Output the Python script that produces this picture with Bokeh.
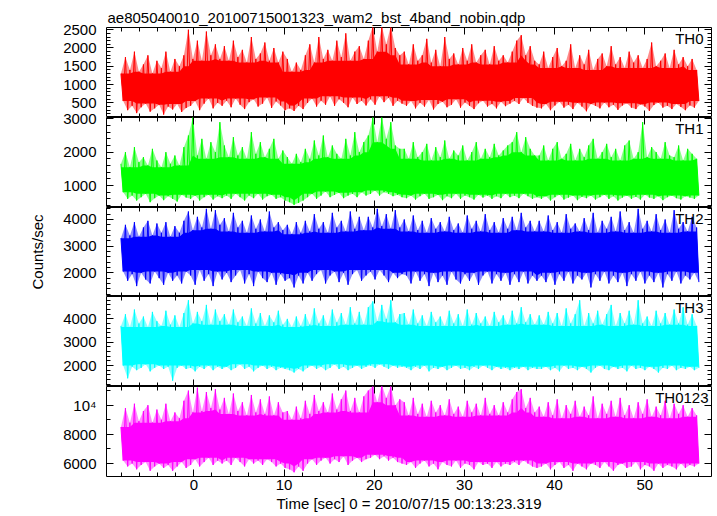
import numpy as np
from bokeh.plotting import figure
from bokeh.layouts import column
from bokeh.models import Range1d, LinearAxis, SingleIntervalTicker, Label, CustomJSTickFormatter
from bokeh.embed import file_html
from bokeh.resources import INLINE

title_text = "ae805040010_20100715001323_wam2_bst_4band_nobin.qdp"
x_label = "Time [sec] 0 = 2010/07/15 00:13:23.319"
y_label = "Counts/sec"
bands = ["TH0", "TH1", "TH2", "TH3", "TH0123"]
colors = ["#ff0000", "#00ff00", "#0000ff", "#00ffff", "#ff00ff"]
t_start, t_end = -8.1, 56.0
x_min, x_max = -9.7, 57.4
y_ranges = [(100, 2560), (340, 3040), (1110, 4450), (1100, 4960), (5110, 11280)]
y_major = [500, 1000, 1000, 1000, 2000]
y_minor = [5, 5, 5, 5, 2]
label_overrides = [{}, {}, {}, {}, {10000: "10\u2074"}]

# peaks (hi) and troughs (lo) of each band, read every 0.5 s
th0_hi = [1300, 1750, 1400, 1900, 1350, 1550, 1800, 1300, 1650, 1450, 1900, 1350, 1700, 1500, 1800,
          2500, 1700, 2200, 1650, 2450, 1800, 2100, 1700,
          2050, 1650, 2200, 1750, 1950, 1600, 2300, 1700, 1850, 2150, 1650, 2000, 1600, 1900,
          1700, 1350, 1600, 1400,
          1800, 2100, 1600, 2300, 1700, 1950, 1650, 2200, 1750, 2400, 1650, 1900, 2050, 1700,
          2200, 2600, 1900, 2600, 2100, 2600, 2000, 1800,
          1900, 1550, 2100, 1650, 1800, 2250, 1600, 1950, 1500, 2300, 1700, 1850, 1550, 2000, 1650, 2100,
          1600, 1800, 1950, 1550, 2050, 1650, 1800, 1600,
          1900, 2200, 2350, 1800, 2050, 1650,
          1550, 1900, 1450, 1750, 2000, 1500, 1650, 2100, 1450, 1800, 1550, 1950, 1400, 1700, 1850, 1500,
          2050, 1550, 1750, 1450, 1900, 1600, 1800, 1450, 1700, 2150, 1500, 1650, 1850, 1450, 1950, 1550,
          1750, 1500, 1700, 1400]
th0_lo = [550, 300, 420, 220, 380, 480, 260, 350, 450, 180, 400, 320, 470, 250, 360,
          420, 550, 300, 480, 620, 350, 500, 420,
          560, 380, 620, 450, 330, 520, 600, 400, 480, 650, 360, 540, 430, 300,
          350, 280, 420, 330,
          500, 620, 400, 560, 450, 680, 420, 600, 500, 380, 650, 470, 560, 430,
          600, 450, 680, 520, 640, 420, 560, 480,
          420, 550, 350, 500, 400, 580, 320, 470, 530, 380, 450, 600, 370, 510, 420, 330,
          490, 560, 400, 470, 350, 530, 410, 480,
          550, 470, 630, 500, 420, 370,
          350, 470, 300, 430, 530, 370, 450, 330, 500, 400, 270, 470, 420, 350, 510, 380,
          450, 310, 430, 490, 370, 330, 460, 400, 280, 440, 510, 370, 420, 330, 470, 390,
          300, 430, 370, 550]

th1_hi = [1650, 2000, 1550, 2150, 1700, 1850, 1600, 2100, 1750, 1550, 2000, 1650, 1900, 1600, 2150,
          2500, 3050, 1900, 2400, 1800, 2300, 2000, 2900,
          2200, 1850, 2450, 1900, 2150, 1800, 2600, 1950, 2300, 1850, 2100, 2400, 1800, 2050,
          1850, 1650, 1950, 1700,
          2100, 1800, 2350, 1900, 2500, 1850, 2200, 1950, 1800, 2400, 1900, 2600, 2000, 2300,
          2500, 3050, 2300, 3050, 2400, 2900, 2200, 2100,
          2100, 1800, 2300, 1850, 2000, 2250, 1750, 2150, 1850, 2350, 1800, 2050, 1900, 2200, 1750, 2000,
          2300, 1800, 2100, 1850, 2250, 1900, 2050, 2200,
          2300, 2600, 2000, 2450, 2100, 1900,
          1900, 2200, 1750, 2100, 2300, 1800, 1950, 2250, 1750, 2100, 1850, 2200, 2400, 1800, 2000, 2250,
          1850, 2100, 1750, 2200, 2350, 1800, 2000, 2900, 1850, 2150, 2000, 1800, 2300, 1900, 1850, 2200,
          1750, 2100, 1950, 1800]
th1_lo = [800, 600, 700, 550, 650, 750, 500, 620, 700, 560, 680, 600, 520, 720, 640,
          600, 700, 550, 650, 720, 580, 680, 620,
          700, 600, 750, 650, 550, 700, 620, 750, 580, 680, 720, 600, 650, 550,
          500, 420, 480, 550,
          650, 750, 600, 700, 820, 650, 720, 780, 620, 700, 750, 650, 800, 700,
          750, 850, 700, 800, 750, 680, 720, 650,
          620, 700, 580, 680, 750, 600, 650, 720, 560, 680, 620, 750, 600, 700, 650, 580,
          720, 640, 700, 600, 680, 620, 750, 650,
          700, 620, 750, 680, 600, 650,
          600, 680, 550, 650, 720, 580, 640, 700, 560, 660, 620, 700, 580, 650, 720, 600,
          680, 550, 640, 700, 600, 660, 580, 720, 640, 600, 680, 560, 650, 700, 620, 580,
          680, 640, 600, 700]

th2_hi = [3300, 3800, 3400, 3900, 3350, 3700, 3950, 3400, 3850, 3500, 3900, 3350, 3750, 3500, 3950,
          4300, 3600, 4100, 3700, 4400, 3650, 4350, 3800,
          4050, 3550, 4250, 3700, 3950, 3500, 4150, 3650, 4000, 3550, 4300, 3700, 3900, 3600,
          3800, 3450, 3900, 3500,
          3950, 3550, 4200, 3650, 3900, 3500, 4250, 3700, 3950, 3550, 4300, 3650, 4100, 3600,
          4100, 3700, 4400, 3750, 4200, 3650, 4350, 3700,
          4000, 3550, 4150, 3600, 3950, 3500, 4050, 3650, 3900, 3550, 4100, 3600, 3850, 3500, 4150, 3650,
          3950, 3550, 4200, 3600, 3900, 3500, 4050, 3650,
          4100, 3600, 4250, 3700, 3950, 3550,
          3950, 3550, 4150, 3600, 3900, 3500, 4200, 3650, 3850, 3550, 4050, 3600, 4250, 3500, 3950, 3650,
          4100, 3550, 4300, 3600, 3900, 3500, 4400, 3650, 3950, 3550, 4200, 3600, 4000, 3500, 4350, 3650,
          3900, 3550, 4100, 3700]
th2_lo = [2050, 1700, 1950, 1500, 2000, 1750, 1600, 2050, 1800, 1550, 2000, 1700, 1900, 1600, 2050,
          1900, 1550, 2100, 1700, 1950, 1500, 2050, 1750,
          2000, 1650, 1900, 2100, 1600, 1950, 1500, 2050, 1800, 1650, 2000, 1550, 1950, 1700,
          1800, 1450, 1900, 1600,
          2000, 1700, 1950, 2100, 1600, 1900, 2050, 1650, 2000, 1550, 1950, 2100, 1700, 1900,
          2050, 1750, 2100, 1900, 1650, 2000, 1800, 1950,
          1900, 1600, 2050, 1700, 1950, 1500, 2000, 1650, 1900, 1550, 2050, 1750, 1600, 1950, 1700, 2000,
          1550, 1900, 2050, 1600, 1950, 1700, 2000, 1550,
          1950, 1650, 2050, 1600, 1900, 1700,
          1900, 1650, 2000, 1550, 1950, 1700, 2050, 1600, 1900, 1750, 2000, 1450, 1950, 1700, 2050, 1600,
          1900, 1650, 2000, 1500, 1950, 1700, 2050, 1600, 1900, 1650, 2000, 1450, 1950, 1700, 2050, 1600,
          1900, 1750, 2000, 1650]

th3_hi = [3700, 4200, 3650, 4400, 3800, 4100, 3650, 4300, 3900, 3700, 4350, 3750, 4150, 3650, 4250,
          4800, 3800, 4300, 3900, 4600, 3750, 4400, 3900,
          4200, 3750, 4400, 3850, 4100, 3700, 4450, 3800, 4250, 3700, 4150, 3850, 4350, 3750,
          4000, 3650, 4100, 3700,
          4200, 3750, 4450, 3800, 4150, 3700, 4400, 3850, 4250, 3750, 4500, 3800, 4300, 3750,
          4500, 4750, 3900, 4600, 4000, 4800, 3850, 4200,
          4250, 3750, 4400, 3800, 4150, 3700, 4300, 3850, 4100, 3700, 4350, 3800, 4200, 3700, 4400, 3750,
          4250, 3800, 4100, 3700, 4300, 3850, 4150, 3750,
          4350, 3800, 4500, 3850, 4200, 3750,
          4150, 3750, 4300, 3800, 4250, 3700, 4450, 3800, 4200, 4800, 3700, 4250, 3800, 4350, 3750, 4200,
          4600, 3700, 4250, 3800, 4350, 3750, 4800, 3800, 4100, 3700, 4350, 3800, 4250, 3750, 4400, 3800,
          4500, 3750, 4200, 3700]
th3_lo = [2000, 1450, 1950, 1800, 1900, 2050, 1750, 1900, 2000, 1850, 1950, 1350, 1900, 2000, 1850,
          1900, 1750, 1950, 1850, 2000, 1800, 1950, 1850,
          1950, 1800, 1900, 2050, 1850, 1950, 1750, 1900, 2000, 1850, 1950, 1800, 1900, 1850,
          1800, 1700, 1850, 1750,
          1900, 2000, 1850, 1950, 1800, 1900, 2050, 1850, 1950, 1800, 1900, 2000, 1850, 1950,
          2000, 1900, 2050, 1950, 1850, 2000, 1900, 1950,
          1900, 1800, 1950, 1850, 2000, 1750, 1900, 1850, 1950, 1800, 1900, 2000, 1850, 1900, 1800, 1950,
          1850, 2000, 1900, 1800, 1950, 1850, 1900, 1800,
          1900, 1850, 1950, 1800, 1900, 1850,
          1850, 1950, 1800, 1900, 1750, 2000, 1850, 1900, 1800, 1950, 1850, 1700, 1900, 2000, 1850, 1800,
          1950, 1850, 1900, 1750, 2000, 1850, 1900, 1800, 1950, 1850, 1700, 1900, 1850, 2000, 1800, 1900,
          1850, 1950, 1800, 1900]

th0123_hi = [8500, 9800, 8800, 10100, 8900, 9600, 10000, 8800, 9700, 9000, 10100, 8900, 9500, 9100, 10300,
             11000, 9500, 11200, 9600, 10900, 9800, 11100, 9700,
             10500, 9400, 10800, 9600, 10200, 9300, 10700, 9500, 10400, 9400, 10600, 9300, 10200, 9500,
             9600, 9000, 9900, 9100,
             10300, 9400, 10700, 9600, 10200, 9500, 10800, 9700, 10400, 11000, 9600, 10500, 9500, 10600,
             11000, 11300, 10200, 11400, 10500, 11300, 10000, 10400,
             10200, 9300, 10500, 9400, 10100, 9200, 10300, 9500, 10000, 9300, 10400, 9400, 9900, 9200,
             10300, 9500, 10100, 9300, 10500, 9400, 10000, 9300, 10200, 9500,
             10400, 10900, 11100, 9800, 10500, 9500,
             9900, 9200, 10200, 9300, 10400, 9100, 10000, 9400, 10300, 9200, 9900, 9300, 10600, 9100,
             10100, 9400, 10300, 9200, 10500, 9300, 10000, 9100, 10200, 9400, 10400, 9200, 9900, 9300,
             10300, 9100, 10100, 9400, 10000, 9200, 9800, 9300]
th0123_lo = [6200, 5800, 6000, 5600, 5900, 6100, 5500, 5800, 6000, 5700, 5900, 5500, 5800, 6100, 5700,
             5900, 6300, 5800, 6100, 6400, 5900, 6200, 6000,
             6200, 5900, 6400, 6100, 5800, 6300, 6000, 6200, 5900, 6300, 6100, 5800, 6000, 5700,
             5600, 5400, 5800, 5500,
             6000, 6300, 5900, 6200, 6400, 6000, 6300, 6100, 6500, 5900, 6200, 6400, 6100, 6300,
             6400, 6600, 6300, 6500, 6200, 6400, 6100, 6000,
             5900, 6100, 5700, 6000, 6200, 5800, 6000, 5600, 6100, 5900, 5800, 6200, 5700, 6000,
             5900, 5600, 6100, 5900, 6000, 5700, 6100, 5800, 6000, 5900,
             6100, 5900, 6200, 6000, 5800, 5700,
             5800, 6000, 5600, 5900, 6100, 5700, 5900, 5500, 6000, 5800, 5600, 6000, 5900, 5700,
             6100, 5800, 5500, 5900, 6000, 5700, 5800, 6100, 5600, 5900, 5800, 5500, 6000, 5700,
             5900, 5800, 5600, 6000, 5700, 5900, 5800, 6000]

series_hi = [th0_hi, th1_hi, th2_hi, th3_hi, th0123_hi]
series_lo = [th0_lo, th1_lo, th2_lo, th3_lo, th0123_lo]

FONT = "Liberation Sans"
FS = "15px"


def zigzag(hi, lo, w=2):
    n = min(len(hi), len(lo))
    hi = np.asarray(hi[:n], float)
    lo = np.asarray(lo[:n], float)
    t = np.linspace(t_start, t_end, 2 * n)
    th, tl = t[0::2], t[1::2]
    vals = np.empty(2 * n)
    vals[0::2] = hi
    vals[1::2] = lo
    # dense core of the band: lowest nearby peak / highest nearby trough
    core_hi = np.array([hi[max(0, k - w):k + w + 1].min() for k in range(n)])
    core_lo = np.array([lo[max(0, k - w):k + w + 1].max() for k in range(n)])
    core = (np.concatenate([th, tl[::-1]]), np.concatenate([core_hi, core_lo[::-1]]))
    outer = (np.concatenate([th, tl[::-1]]), np.concatenate([hi, lo[::-1]]))
    return t, vals, core, outer


blank = CustomJSTickFormatter(code="return ''")


def style_axis(ax, show):
    ax.axis_line_color = None
    ax.major_tick_in = 7
    ax.major_tick_out = 0
    ax.minor_tick_in = 4
    ax.minor_tick_out = 0
    ax.major_tick_line_color = "black"
    ax.minor_tick_line_color = "black"
    ax.major_label_text_font = FONT
    ax.major_label_text_font_size = FS
    ax.major_label_text_color = "black"
    ax.axis_label_text_font = FONT
    ax.axis_label_text_font_size = FS
    ax.axis_label_text_font_style = "normal"
    ax.axis_label_text_color = "black"
    if not show:
        ax.formatter = blank
        ax.major_label_standoff = 0


heights = [117, 98, 89, 90, 130]
tops = [27, 8, 0, 0, 0]
bottoms = [0, 0, 0, 0, 40]
figs = []
for i in range(5):
    p = figure(width=717, height=heights[i], output_backend="svg", toolbar_location=None,
               x_range=Range1d(x_min, x_max), y_range=Range1d(*y_ranges[i]),
               min_border_left=106, min_border_right=6,
               min_border_top=tops[i], min_border_bottom=bottoms[i],
               x_axis_type=None, y_axis_type=None)
    p.outline_line_color = "black"
    p.outline_line_width = 1
    p.outline_line_alpha = 1
    p.background_fill_color = "white"
    p.border_fill_color = "white"
    if i == 1:
        # let the top tick label of this panel overlap the panel above
        p.border_fill_alpha = 0
        p.margin = (-8, 0, 0, 0)

    xt = SingleIntervalTicker(interval=10, num_minor_ticks=5)
    yt = SingleIntervalTicker(interval=y_major[i], num_minor_ticks=y_minor[i])
    for loc in ["below", "above"]:
        ax = LinearAxis(ticker=xt)
        show = (loc == "below" and i == 4)
        style_axis(ax, show)
        if show:
            ax.major_label_standoff = 3
            ax.axis_label = x_label
            ax.axis_label_standoff = 2
        p.add_layout(ax, loc)
    for loc in ["left", "right"]:
        ax = LinearAxis(ticker=yt)
        style_axis(ax, loc == "left")
        if loc == "left":
            ax.major_label_standoff = 10
            ax.major_label_overrides = label_overrides[i]
            if i == 2:
                ax.axis_label = y_label
                ax.axis_label_standoff = 14
        p.add_layout(ax, loc)

    t, v, core, outer = zigzag(series_hi[i], series_lo[i])
    p.patch(outer[0], outer[1], fill_color=colors[i], fill_alpha=0.45, line_color=None)
    p.patch(core[0], core[1], fill_color=colors[i], line_color=None)
    p.line(t, v, line_color=colors[i], line_width=1.0)

    p.add_layout(Label(x=x_max, y=y_ranges[i][1], x_offset=(-3 if i == 4 else -8), y_offset=-2,
                       text=bands[i], text_align="right", text_baseline="top",
                       text_font=FONT, text_font_size=FS, text_color="black"))
    if i == 0:
        p.title.text = title_text
        p.title.align = "left"
        p.title.offset = 1
        p.title.standoff = 4
        p.title.text_font = FONT
        p.title.text_font_size = FS
        p.title.text_font_style = "normal"
        p.title.text_color = "black"
    figs.append(p)

layout = column(*figs, spacing=0)
open("out.html", "w").write(file_html(layout, INLINE))
